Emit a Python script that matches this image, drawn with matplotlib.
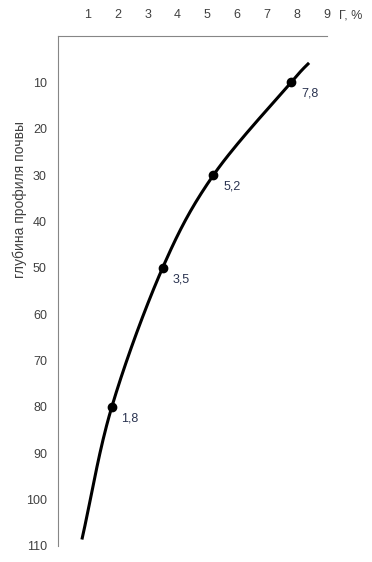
import numpy as np
import matplotlib
matplotlib.use("Agg")
import matplotlib.pyplot as plt

plt.rcParams['font.family'] = ['Liberation Sans', 'DejaVu Sans']

# Curve points (humus %, depth cm); ends of the curve carry no marker
curve_x = [0.8, 1.8, 3.5, 5.2, 7.8, 8.4]
curve_y = [108.6, 80, 50, 30, 10, 5.8]
# Marked points with labels
point_x = [1.8, 3.5, 5.2, 7.8]
point_y = [80, 50, 30, 10]
point_labels = ["1,8", "3,5", "5,2", "7,8"]
x_ticks = [1, 2, 3, 4, 5, 6, 7, 8, 9]
y_ticks = [10, 20, 30, 40, 50, 60, 70, 80, 90, 100, 110]


def catmull_rom(xs, ys, n=30):
    p = np.column_stack([xs, ys]).astype(float)
    p = np.vstack([2 * p[0] - p[1], p, 2 * p[-1] - p[-2]])
    out = []
    t = np.linspace(0, 1, n)[:, None]
    for i in range(1, len(p) - 2):
        p0, p1, p2, p3 = p[i - 1], p[i], p[i + 1], p[i + 2]
        seg = 0.5 * ((2 * p1) + (-p0 + p2) * t + (2 * p0 - 5 * p1 + 4 * p2 - p3) * t ** 2
                     + (-p0 + 3 * p1 - 3 * p2 + p3) * t ** 3)
        out.append(seg)
    s = np.vstack(out)
    return s[:, 0], s[:, 1]


fig = plt.figure(figsize=(3.72, 5.62), dpi=100)
ax = fig.add_axes([58 / 372, 1 - 546 / 562, (327 - 58) / 372, (546 - 36) / 562])

sx, sy = catmull_rom(curve_x, curve_y)
ax.plot(sx, sy, color='black', lw=2.2, solid_capstyle='butt')
ax.plot(point_x, point_y, 'o', color='black', ms=6)
for x, y, lab in zip(point_x, point_y, point_labels):
    ax.annotate(lab, (x, y), xytext=(7, -4), textcoords='offset points',
                fontsize=9, color='#2a3350', va='top', ha='left')

ax.set_xlim(0, 9)
ax.set_ylim(110, 0)
ax.set_xticks(x_ticks)
ax.set_yticks(y_ticks)
ax.xaxis.tick_top()
ax.tick_params(axis='both', length=0, labelsize=9, labelcolor='#404040')
ax.tick_params(axis='x', pad=11)
ax.tick_params(axis='y', pad=8)
for s in ['right', 'bottom']:
    ax.spines[s].set_visible(False)
for s in ['left', 'top']:
    ax.spines[s].set_color('#868686')
    ax.spines[s].set_linewidth(0.8)

fig.text(351 / 372, 1 - 15 / 562, "Г, %", fontsize=9, color='#404040', ha='center', va='center')
fig.text(20 / 372, 1 - 200 / 562, "глубина профиля почвы", fontsize=10, color='#404040',
         rotation=90, ha='center', va='center')

fig.savefig("out.png", dpi=100)
